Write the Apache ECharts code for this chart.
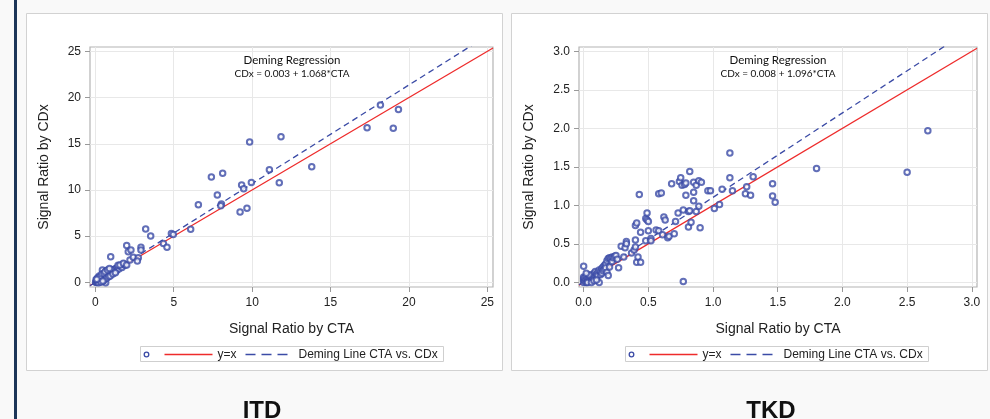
<!DOCTYPE html>
<html>
<head>
<meta charset="utf-8" />
<title>Deming Regression - ITD / TKD</title>
<style>
  html, body { margin: 0; padding: 0; background: #f9f9f9; }
  #main { width: 990px; height: 419px; }
</style>
</head>
<body>
<div id="main"></div>
<script src="https://cdn.jsdelivr.net/npm/echarts@6/dist/echarts.min.js"></script>
<script>
// ---- data ----
var itdPoints = [
  [0.02,0.05],[0.05,0.0],[0.08,0.12],[0.1,0.06],[0.12,0.2],[0.15,0.1],[0.18,0.25],[0.2,0.15],
  [0.22,0.32],[0.25,0.2],[0.28,0.4],[0.3,0.26],[0.32,0.18],[0.35,0.45],[0.38,0.3],[0.4,0.55],
  [0.42,0.36],[0.45,0.25],[0.48,0.6],[0.5,0.42],[0.52,0.75],[0.55,0.5],[0.58,0.35],[0.6,0.68],
  [0.62,0.55],[0.65,0.85],[0.68,0.6],[0.66,-0.05],[0.72,0.78],[0.75,0.65],[0.78,1.0],[0.8,0.72],
  [0.82,0.9],[0.85,1.2],[0.88,0.8],[0.9,1.05],[0.92,0.88],[0.95,1.3],[0.98,0.95],[1.0,1.15],
  [1.05,1.0],[1.08,1.35],[1.1,1.2],[1.15,1.05],[1.2,1.4],[1.25,1.3],[1.3,1.5],[1.35,1.25],
  [1.4,1.6],[1.5,1.45],[1.6,1.75],[1.7,1.6],[1.8,2.0],[1.9,1.85],[0.45,1.33],[0.6,1.0],
  [0.15,0.5],[0.25,0.7],[0.7,1.25],[0.2,-0.05],[0.38,0.08],[0.55,0.2],[1.45,1.85],[1.2,1.1],
  [0.05,0.3],[0.3,0.6],[0.42,0.9],[0.55,0.95],[0.62,1.15],[0.72,0.45],[0.85,0.6],[0.95,0.7],
  [1.0,1.4],[1.12,0.9],[0.35,0.05],[0.1,0.35],[0.48,0.15],[0.78,1.35],[1.28,1.05],[0.9,1.5],
  [1.57,1.88],[1.79,2.06],[2.0,1.88],[2.21,2.42],[2.42,2.71],[2.74,2.67],[2.68,2.31],
  [0.98,2.78],[2.0,4.0],[2.1,3.32],[2.27,3.5],[2.91,3.79],[2.91,3.5],[3.21,5.77],[3.53,5.01],
  [4.34,4.22],[4.57,3.79],[4.85,5.3],[4.97,5.19],[6.08,5.74],[6.57,8.41],[7.4,11.4],[7.78,9.45],
  [8.12,11.8],[8.04,8.48],[8.0,8.3],[9.23,7.61],[9.67,8.01],[9.33,10.53],[9.46,10.14],[9.95,10.82],
  [9.84,15.19],[11.1,12.19],[11.73,10.79],[11.84,15.76],[13.8,12.52],[17.33,16.74],[18.18,19.19],
  [19.0,16.67],[19.33,18.72]
];

var tkdPoints = [
  [0.00,0.00],[0.00,0.03],[0.00,0.05],[0.00,0.07],[0.01,0.02],[0.01,0.06],[0.02,0.00],[0.02,0.04],
  [0.02,0.08],[0.03,0.01],[0.03,0.05],[0.04,0.03],[0.04,0.07],[0.05,0.02],[0.05,0.06],[0.05,0.09],
  [0.06,0.04],[0.06,0.08],[0.07,0.05],[0.07,0.10],[0.08,0.06],[0.08,0.12],[0.09,0.08],[0.09,0.14],
  [0.10,0.07],[0.10,0.11],[0.11,0.13],[0.11,0.09],[0.12,0.00],[0.12,0.16],[0.13,0.10],[0.13,0.14],
  [0.14,0.18],[0.14,0.12],[0.15,0.20],[0.15,0.15],[0.16,0.22],[0.16,0.17],[0.17,0.24],[0.17,0.19],
  [0.18,0.28],[0.18,0.13],[0.19,0.31],[0.19,0.09],[0.20,0.32],[0.20,0.20],[0.21,0.31],[0.22,0.33],
  [0.22,0.27],[0.23,0.32],[0.24,0.34],[0.25,0.35],[0.26,0.30],[0.27,0.19],[0.00,0.21],[0.03,0.00],
  [0.06,0.00],[0.08,0.02],[0.10,0.03],[0.04,0.10],[0.02,0.12],
  [0.29,0.47],[0.32,0.45],[0.33,0.53],[0.33,0.50],[0.31,0.33],[0.37,0.38],[0.39,0.42],[0.40,0.46],
  [0.40,0.55],[0.41,0.26],[0.42,0.33],[0.44,0.26],[0.40,0.74],[0.41,0.77],[0.44,0.65],[0.43,1.14],
  [0.48,0.54],[0.48,0.83],[0.49,0.90],[0.49,0.81],[0.50,0.79],[0.50,0.67],[0.52,0.57],[0.52,0.54],
  [0.56,0.68],[0.58,0.67],[0.58,1.15],[0.60,1.16],[0.61,0.62],[0.62,0.85],[0.63,0.81],[0.65,0.58],
  [0.66,0.60],[0.68,1.28],[0.70,0.63],[0.71,0.79],[0.73,0.90],[0.74,1.31],[0.75,1.36],[0.76,1.26],
  [0.77,0.94],[0.77,0.01],[0.78,1.27],[0.79,1.29],[0.79,1.13],[0.81,0.92],[0.81,0.72],[0.82,0.93],
  [0.82,1.44],[0.83,0.78],[0.85,1.30],[0.85,1.17],[0.85,1.06],[0.87,1.26],[0.87,0.92],[0.89,1.32],
  [0.89,0.99],[0.90,0.71],[0.91,1.30],[0.96,1.19],[0.98,1.19],
  [1.01,0.96],[1.05,1.01],[1.07,1.21],[1.13,1.36],[1.13,1.68],[1.15,1.19],[1.25,1.15],[1.26,1.24],
  [1.29,1.13],[1.31,1.37],[1.46,1.28],[1.46,1.12],[1.48,1.04],[1.80,1.48],[2.50,1.43],[2.66,1.97]
];

var itdTicks = [0, 5, 10, 15, 20, 25];
var tkdTicks = [0, 0.5, 1, 1.5, 2, 2.5, 3];

// Deming fit: [intercept, slope]
var itdFit = [0.003, 1.068];
var tkdFit = [0.008, 1.096];

var itdEquation = "CDx = 0.003 + 1.068*CTA";
var tkdEquation = "CDx = 0.008 + 1.096*CTA";
var panelNames = ["ITD", "TKD"];
</script>
<script>
var dom = document.getElementById("main");
var myChart = echarts.init(dom, null, { renderer: "canvas" });

var blue = "#3b4ba6";
var red = "#ee2b2b";
var frameColor = "#b4b4b4";
var gridColor = "#e8e8e8";
var axisFont = "'Liberation Sans', Arial, sans-serif";
var noteFont = "Lato, 'Open Sans', sans-serif";

// axis extents (padding beyond the tick range, like the SAS frame)
var itdX = [-0.34, 25.36], itdY = [-0.5, 25.47];
var tkdX = [-0.036, 3.04], tkdY = [-0.06, 3.056];

function fitLine(fit, range) {
  return [
    [range[0], fit[0] + fit[1] * range[0]],
    [range[1], fit[0] + fit[1] * range[1]]
  ];
}

function makeAxis(idx, range, ticks, fmt, name, gap, isY) {
  return {
    type: "value",
    gridIndex: idx,
    min: range[0],
    max: range[1],
    name: name,
    nameLocation: "middle",
    nameGap: gap,
    nameTextStyle: { fontFamily: axisFont, fontSize: 14, color: "#222" },
    axisLine: { show: false, onZero: false },
    axisTick: {
      show: true, length: 5, inside: false,
      customValues: ticks,
      lineStyle: { color: "#999", width: 1 }
    },
    axisLabel: {
      customValues: ticks,
      formatter: fmt,
      fontFamily: axisFont, fontSize: 12, color: "#222",
      margin: isY ? 9 : 10
    },
    splitLine: { show: true, lineStyle: { color: gridColor, width: 1 } }
  };
}

function fmtInt(v) { return String(Math.round(v)); }
function fmtOne(v) { return v.toFixed(1); }

function legendGroup(left) {
  var top = 346;
  return {
    type: "group",
    left: left,
    top: top,
    z: 10,
    children: [
      { type: "rect", shape: { x: 0, y: 0, width: 303, height: 15 },
        style: { fill: "#fff", stroke: "#cfcfcf", lineWidth: 1 } },
      { type: "circle", shape: { cx: 6, cy: 8, r: 2.3 },
        style: { fill: "none", stroke: blue, lineWidth: 1.3 } },
      { type: "line", shape: { x1: 24, y1: 8, x2: 72, y2: 8 },
        style: { stroke: red, lineWidth: 1.3 } },
      { type: "text", x: 77, y: 8,
        style: { text: "y=x", fontFamily: axisFont, fontSize: 12, fill: "#222", verticalAlign: "middle" } },
      { type: "line", shape: { x1: 105, y1: 8, x2: 147, y2: 8 },
        style: { stroke: blue, lineWidth: 1.3, lineDash: [10, 6] } },
      { type: "text", x: 158, y: 8,
        style: { text: "Deming Line CTA vs. CDx", fontFamily: axisFont, fontSize: 12, fill: "#222", verticalAlign: "middle" } }
    ]
  };
}

function noteText(cx, y, txt, size) {
  return {
    type: "text", x: cx, y: y, z: 10,
    style: { text: txt, fontFamily: noteFont, fontSize: size, fill: "#111", align: "center", verticalAlign: "middle" }
  };
}

var option = {
  backgroundColor: "#f9f9f9",
  animation: false,
  grid: [
    { left: 90, top: 47, width: 403, height: 240, show: true, backgroundColor: "#fff", borderColor: frameColor, borderWidth: 1.2 },
    { left: 579, top: 47, width: 398, height: 240, show: true, backgroundColor: "#fff", borderColor: frameColor, borderWidth: 1.2 }
  ],
  xAxis: [
    makeAxis(0, itdX, itdTicks, fmtInt, "Signal Ratio by CTA", 35, false),
    makeAxis(1, tkdX, tkdTicks, fmtOne, "Signal Ratio by CTA", 35, false)
  ],
  yAxis: [
    makeAxis(0, itdY, itdTicks, fmtInt, "Signal Ratio by CDx", 39, true),
    makeAxis(1, tkdY, tkdTicks, fmtOne, "Signal Ratio by CDx", 43, true)
  ],
  graphic: [
    { type: "rect", z: -10, shape: { x: 14, y: 0, width: 3, height: 419 }, style: { fill: "#1c3558" } },
    { type: "rect", z: -10, shape: { x: 26.5, y: 13.5, width: 476, height: 357 }, style: { fill: "#fff", stroke: "#d2d2d2", lineWidth: 1 } },
    { type: "rect", z: -10, shape: { x: 511.5, y: 13.5, width: 476, height: 357 }, style: { fill: "#fff", stroke: "#d2d2d2", lineWidth: 1 } },
    noteText(292, 60, "Deming Regression", 11.5),
    noteText(292, 74, itdEquation, 10),
    noteText(778, 60, "Deming Regression", 11.5),
    noteText(778, 74, tkdEquation, 10),
    legendGroup(140),
    legendGroup(625),
    { type: "text", x: 262, y: 411, z: 10,
      style: { text: panelNames[0], fontFamily: axisFont, fontSize: 24, fontWeight: "bold", fill: "#111", align: "center", verticalAlign: "middle" } },
    { type: "text", x: 771, y: 411, z: 10,
      style: { text: panelNames[1], fontFamily: axisFont, fontSize: 24, fontWeight: "bold", fill: "#111", align: "center", verticalAlign: "middle" } }
  ],
  series: [
    {
      type: "line", xAxisIndex: 0, yAxisIndex: 0, silent: true, symbol: "none", clip: true,
      lineStyle: { color: red, width: 1.3 }, data: [[itdX[0], itdX[0]], [itdX[1], itdX[1]]], z: 3
    },
    {
      type: "line", xAxisIndex: 0, yAxisIndex: 0, silent: true, symbol: "none", clip: true,
      lineStyle: { color: blue, width: 1.3, type: [6, 4] }, data: fitLine(itdFit, itdX), z: 3
    },
    {
      type: "scatter", xAxisIndex: 0, yAxisIndex: 0, symbol: "emptyCircle", symbolSize: 5.5,
      itemStyle: { color: blue, borderColor: blue, borderWidth: 1.3 }, data: itdPoints, z: 4
    },
    {
      type: "line", xAxisIndex: 1, yAxisIndex: 1, silent: true, symbol: "none", clip: true,
      lineStyle: { color: red, width: 1.3 }, data: [[tkdX[0], tkdX[0]], [tkdX[1], tkdX[1]]], z: 3
    },
    {
      type: "line", xAxisIndex: 1, yAxisIndex: 1, silent: true, symbol: "none", clip: true,
      lineStyle: { color: blue, width: 1.3, type: [6, 4] }, data: fitLine(tkdFit, tkdX), z: 3
    },
    {
      type: "scatter", xAxisIndex: 1, yAxisIndex: 1, symbol: "emptyCircle", symbolSize: 5.5,
      itemStyle: { color: blue, borderColor: blue, borderWidth: 1.3 }, data: tkdPoints, z: 4
    }
  ]
};

myChart.setOption(option);

window.addEventListener("resize", function () {
  myChart.resize();
});
</script>
</body>
</html>
